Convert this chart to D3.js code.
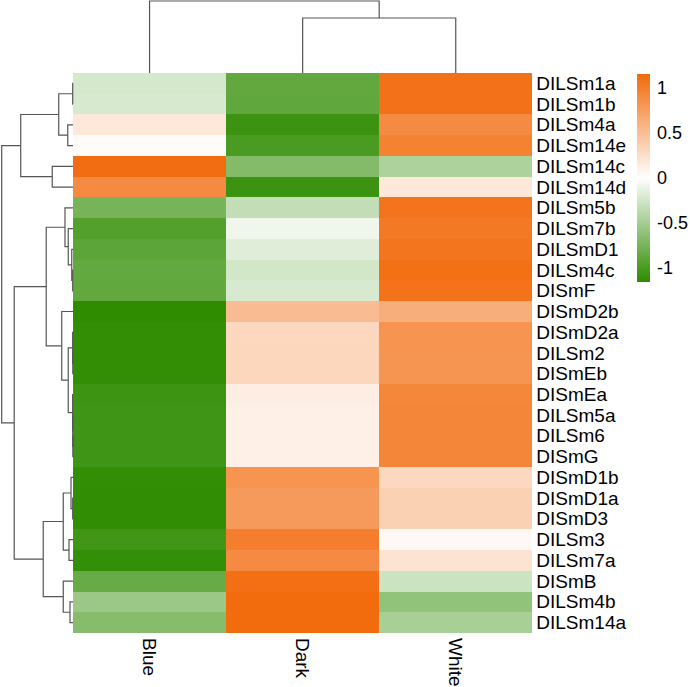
<!DOCTYPE html>
<html lang="en">
<head>
<meta charset="utf-8">
<title>Clustered heatmap</title>
<script src="https://d3js.org/d3.v7.min.js"></script>
<style>
  body {margin: 0; background: #fff;}
  text {font-family: "Liberation Sans", Arial, sans-serif; font-size: 19px; fill: #000;}
  .legend text {font-size: 18px;}
  .tree {fill: none; stroke: #555; stroke-width: 1.2;}
</style>
</head>
<body>
<svg width="690" height="687"></svg>
<script>
// row names, top to bottom (dendrogram order)
var rows = ["DILSm1a","DILSm1b","DILSm4a","DILSm14e","DILSm14c","DILSm14d","DILSm5b","DILSm7b",
  "DILSmD1","DILSm4c","DISmF","DISmD2b","DISmD2a","DILSm2","DISmEb","DISmEa","DILSm5a","DILSm6",
  "DISmG","DISmD1b","DISmD1a","DISmD3","DILSm3","DILSm7a","DISmB","DILSm4b","DILSm14a"];
var columns = ["Blue", "Dark", "White"];

// row-scaled values (z-scores)
var blueVals  = [-0.23,-0.22, 0.18, 0.03, 1.13, 0.90,-0.75,-0.95,-0.90,-0.86,-0.87,-1.15,-1.13,-1.13,
  -1.13,-1.07,-1.06,-1.06,-1.06,-1.13,-1.14,-1.14,-1.05,-1.12,-0.84,-0.55,-0.67];
var darkVals  = [-0.87,-0.88,-1.08,-1.00,-0.68,-1.08,-0.33,-0.09,-0.17,-0.25,-0.22, 0.52, 0.30, 0.31,
   0.31, 0.14, 0.12, 0.12, 0.12, 0.83, 0.78, 0.78, 1.00, 0.90, 1.12, 1.15, 1.15];
var whiteVals = [ 1.10, 1.10, 0.90, 0.97,-0.45, 0.18, 1.08, 1.04, 1.07, 1.11, 1.09, 0.63, 0.83, 0.82,
   0.82, 0.93, 0.94, 0.94, 0.94, 0.30, 0.36, 0.36, 0.05, 0.22,-0.28,-0.60,-0.48];

var legendTicks = [-1, -0.5, 0, 0.5, 1];

// dendrograms: [merge height, left, right]
var rowTree = [2.85,
  [2.09,
    [0.57, [0.012, "DILSm1a", "DILSm1b"], [0.21, "DILSm4a", "DILSm14e"]],
    [0.83, "DILSm14c", "DILSm14d"]],
  [2.35,
    [1.07,
      [0.32, "DILSm5b", [0.19, "DILSm7b", [0.05, "DILSmD1", [0.012, "DILSm4c", "DISmF"]]]],
      [0.45, "DISmD2b",
        [0.19,
          [0.014, "DISmD2a", [0.008, "DILSm2", "DISmEb"]],
          [0.014, "DISmEa", [0.01, "DILSm5a", [0.006, "DILSm6", "DISmG"]]]]]],
    [1.19,
      [0.39, [0.08, "DISmD1b", [0.012, "DISmD1a", "DISmD3"]], [0.16, "DILSm3", "DILSm7a"]],
      [0.39, "DISmB", [0.12, "DILSm4b", "DILSm14a"]]]]];
var colTree = [7.2, "Blue", [5.5, "Dark", "White"]];

var svg = d3.select("svg");
var mLeft = 73, mTop = 73, mRight = 532.3, mBottom = 633;

var x = d3.scaleBand().domain(columns).range([mLeft, mRight]);
var y = d3.scaleBand().domain(rows).range([mTop, mBottom]);
var color = d3.scaleLinear().domain([-1.155, 0, 1.155]).range(["#2e8b00", "#ffffff", "#f26a0c"]);

var cells = [];
rows.forEach(function(r, i) {
  cells.push({row: r, col: "Blue", v: blueVals[i]});
  cells.push({row: r, col: "Dark", v: darkVals[i]});
  cells.push({row: r, col: "White", v: whiteVals[i]});
});

svg.append("g").selectAll("rect")
  .data(cells)
  .enter()
  .append("rect")
    .attr("x", function(d) { return x(d.col); })
    .attr("y", function(d) { return y(d.row); })
    .attr("width", x.bandwidth())
    .attr("height", y.bandwidth())
    .attr("fill", function(d) { return color(d.v); })
    .attr("shape-rendering", "crispEdges");

// dendrogram drawing
function drawTree(tree, posOf, hScale, point) {
  var paths = [];
  function walk(node) {
    if (typeof node === "string") return {p: posOf(node), h: 0};
    var a = walk(node[1]), b = walk(node[2]);
    var p = d3.path();
    var p1 = point(a.p, hScale(a.h)), p2 = point(a.p, hScale(node[0]));
    var p3 = point(b.p, hScale(node[0])), p4 = point(b.p, hScale(b.h));
    p.moveTo(p1[0], p1[1]); p.lineTo(p2[0], p2[1]); p.lineTo(p3[0], p3[1]); p.lineTo(p4[0], p4[1]);
    paths.push(p.toString());
    return {p: (a.p + b.p) / 2, h: node[0]};
  }
  walk(tree);
  svg.append("g").selectAll("path").data(paths).enter()
    .append("path").attr("class", "tree").attr("d", function(d) { return d; });
}

var rowH = d3.scaleLinear().domain([0, rowTree[0]]).range([mLeft, 1.7]);
drawTree(rowTree, function(n) { return y(n) + y.bandwidth() / 2; }, rowH,
  function(p, h) { return [h, p]; });

var colH = d3.scaleLinear().domain([0, colTree[0]]).range([mTop, 1]);
drawTree(colTree, function(n) { return x(n) + x.bandwidth() / 2; }, colH,
  function(p, h) { return [p, h]; });

// row labels
svg.append("g").selectAll("text")
  .data(rows)
  .enter()
  .append("text")
    .attr("x", mRight + 4)
    .attr("y", function(d) { return y(d) + y.bandwidth() / 2; })
    .attr("dominant-baseline", "central")
    .text(function(d) { return d; });

// column labels, rotated
svg.append("g").selectAll("text")
  .data(columns)
  .enter()
  .append("text")
    .attr("transform", function(d) {
      return "translate(" + (x(d) + x.bandwidth() / 2) + "," + (mBottom + 5) + ") rotate(90)";
    })
    .attr("dominant-baseline", "central")
    .text(function(d) { return d; });

// legend
var legY = d3.scaleLinear().domain([-1.155, 1.155]).range([282, 74]);
var grad = svg.append("defs").append("linearGradient")
  .attr("id", "leg").attr("x1", 0).attr("y1", 1).attr("x2", 0).attr("y2", 0);
d3.range(0, 1.0001, 0.05).forEach(function(t) {
  grad.append("stop").attr("offset", t).attr("stop-color", color(-1.155 + t * 2.31));
});
svg.append("rect")
  .attr("x", 637).attr("y", legY(1.155))
  .attr("width", 13).attr("height", legY(-1.155) - legY(1.155))
  .attr("fill", "url(#leg)");

var legAxis = svg.append("g")
  .attr("class", "legend")
  .attr("transform", "translate(650,0)")
  .call(d3.axisRight(legY).tickValues(legendTicks).tickSize(0).tickPadding(7)
    .tickFormat(function(d) { return String(d); }));
legAxis.select(".domain").remove();
</script>
</body>
</html>
